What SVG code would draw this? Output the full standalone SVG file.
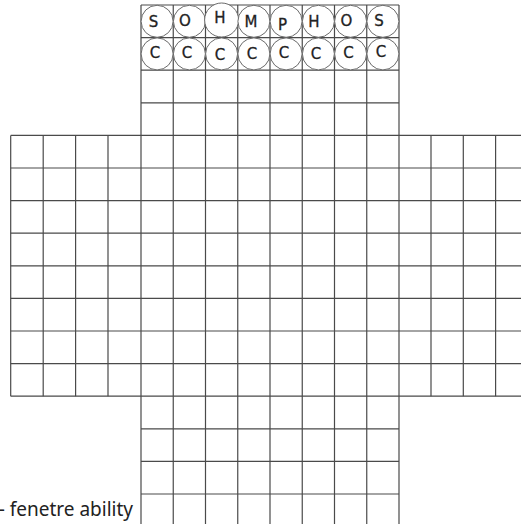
<svg xmlns="http://www.w3.org/2000/svg" width="521" height="524" viewBox="0 0 521 524">
<style>
.g{stroke:#4a4a4a;stroke-width:1.2;fill:none}
.c{stroke:#6a6a6a;stroke-width:1;fill:#fff}
.t{font-family:"DejaVu Sans","Liberation Sans",sans-serif;font-size:15px;fill:#222;stroke:#222;stroke-width:0.3;text-anchor:middle}
.lbl{font-family:"Noto Sans","Open Sans",sans-serif;font-size:19px;fill:#222}
</style>
<rect width="521" height="524" fill="#fff"/>
<g id="grid-center" class="g">
<path d="M141 5V524M173.25 5V524M205.5 5V524M237.75 5V524M270 5V524M302.25 5V524M334.5 5V524M366.75 5V524M399 5V524"/>
<path d="M141 5H399M141 37.6H399M141 70.2H399M141 102.8H399M141 135.4H399M141 168H399M141 200.6H399M141 233.2H399M141 265.8H399M141 298.4H399M141 331H399M141 363.6H399M141 396.2H399M141 428.8H399M141 461.4H399M141 494H399"/>
</g>
<g id="grid-left" class="g">
<path d="M10.7 135.4V396.2M43.2 135.4V396.2M75.6 135.4V396.2M108 135.4V396.2"/>
<path d="M10.7 135.4H141M10.7 168H141M10.7 200.6H141M10.7 233.2H141M10.7 265.8H141M10.7 298.4H141M10.7 331H141M10.7 363.6H141M10.7 396.2H141"/>
</g>
<g id="grid-right" class="g">
<path d="M431 135.4V396.2M463.3 135.4V396.2M495.6 135.4V396.2"/>
<path d="M399 135.4H521M399 168H521M399 200.6H521M399 233.2H521M399 265.8H521M399 298.4H521M399 331H521M399 363.6H521M399 396.2H521"/>
</g>
<g id="row1">
<g id="n-s1"><circle class="c" cx="157.1" cy="21.3" r="16"/><text class="t" x="153.5" y="26.5">S</text></g>
<g id="n-o1"><circle class="c" cx="189.4" cy="21.3" r="16"/><text class="t" x="185" y="26">O</text></g>
<g id="n-h1"><circle class="c" cx="221.6" cy="20" r="17"/><text class="t" x="220" y="22.5">H</text></g>
<g id="n-m"><circle class="c" cx="253.9" cy="21.3" r="16"/><text class="t" x="251" y="27">M</text></g>
<g id="n-p"><circle class="c" cx="286.1" cy="21.3" r="16"/><text class="t" x="282.5" y="29.5">P</text></g>
<g id="n-h2"><circle class="c" cx="318.4" cy="21.3" r="16"/><text class="t" x="314" y="26.5">H</text></g>
<g id="n-o2"><circle class="c" cx="350.6" cy="21.3" r="16"/><text class="t" x="346.5" y="26">O</text></g>
<g id="n-s2"><circle class="c" cx="382.9" cy="21.3" r="16"/><text class="t" x="379" y="25.5">S</text></g>
</g>
<g id="row2">
<g id="n-c1"><circle class="c" cx="157.1" cy="53.9" r="16"/><text class="t" x="155" y="57.5">C</text></g>
<g id="n-c2"><circle class="c" cx="189.4" cy="53.9" r="16"/><text class="t" x="187" y="57.5">C</text></g>
<g id="n-c3"><circle class="c" cx="221.6" cy="53.9" r="16"/><text class="t" x="220" y="59.5">C</text></g>
<g id="n-c4"><circle class="c" cx="253.9" cy="53.9" r="16"/><text class="t" x="252" y="58.5">C</text></g>
<g id="n-c5"><circle class="c" cx="286.1" cy="53.9" r="16"/><text class="t" x="284" y="58">C</text></g>
<g id="n-c6"><circle class="c" cx="318.4" cy="53.9" r="16"/><text class="t" x="316" y="58.5">C</text></g>
<g id="n-c7"><circle class="c" cx="350.6" cy="53.9" r="16"/><text class="t" x="348.5" y="58">C</text></g>
<g id="n-c8"><circle class="c" cx="382.9" cy="53.9" r="16"/><text class="t" x="381" y="56.5">C</text></g>
</g>
<g id="label"><text class="lbl" x="133" y="516" text-anchor="end">- fenetre ability</text></g>
</svg>
